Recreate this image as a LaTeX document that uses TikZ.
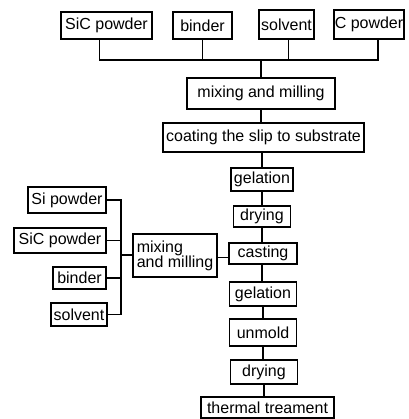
\documentclass[tikz,border=0pt]{standalone}
\usepackage{fontspec}
\setmainfont{Liberation Sans}
\usetikzlibrary{positioning}

\tikzset{
	box/.style={draw, line width=1.25pt, inner sep=0pt, font=\fontsize{16}{15}\selectfont},
	link/.style={line width=1.25pt}
}

\begin{document}
\begin{tikzpicture}[x=1pt,y=-1pt]
		\useasboundingbox (0,0) rectangle (408,419);
		% raw materials for the slip
		\node[box, minimum width=91pt, minimum height=27pt] (sic) at (106.5,25.5) {SiC powder};
		\node[box, minimum width=59pt, minimum height=27pt] (binder) at (202.5,25.5) {binder};
		\node[box, minimum width=55pt, minimum height=29pt] (solvent) at (286.5,24.5) {solvent};
		\node[box, minimum width=70pt, minimum height=29pt] (cpowder) at (369,24.5) {C powder};
		\coordinate (topjoin) at (261,60);
		% main line
		\node[box, minimum width=148pt, minimum height=31pt] (mixA) at (261,93.5) {mixing and milling};
		\node[box, minimum width=201pt, minimum height=29pt] (coat) at (263.5,137.5) {coating the slip to substrate};
		\node[box, minimum width=62pt, minimum height=23pt] (gelA) at (262,179.5) {gelation};
		\node[box, minimum width=57pt, minimum height=21pt] (dryA) at (262,216.5) {drying};
		\node[box, minimum width=68pt, minimum height=21pt] (cast) at (263,253.5) {casting};
		\node[box, minimum width=67pt, minimum height=24pt] (gelB) at (263,294) {gelation};
		\node[box, minimum width=67pt, minimum height=27pt] (unmold) at (263,332.5) {unmold};
		\node[box, minimum width=67pt, minimum height=24pt] (dryB) at (264,372) {drying};
		\node[box, minimum width=133pt, minimum height=21pt] (thermal) at (267.5,407.5) {thermal treament};
		% raw materials for the casting slurry
		\node[box, minimum width=78pt, minimum height=26pt] (si) at (67,200) {Si powder};
		\node[box, minimum width=92pt, minimum height=25pt] (sicB) at (60,240.5) {SiC powder};
		\node[box, minimum width=53pt, minimum height=22pt] (binderB) at (79.5,278) {binder};
		\node[box, minimum width=56pt, minimum height=23pt] (solventB) at (79,314.5) {solvent};
		\coordinate (leftjoin) at (121,255);
		\node[box, minimum width=84pt, minimum height=43pt, align=left] (mixB) at (175,255.5) {mixing\\and milling};

		\draw[link] ([xshift=-7pt]sic.south) |- (topjoin);
		\draw[link] (binder.south) |- (topjoin);
		\draw[link] ([xshift=2pt]solvent.south) |- (topjoin);
		\draw[link] ([xshift=9pt]cpowder.south) |- (topjoin);
		\draw[link] (topjoin) -- (mixA.north);
		\draw[link] (mixA.south) -- (mixA.south |- coat.north);
		\draw[link] (gelA.north |- coat.south) -- (gelA.north);
		\draw[link] (gelA.south) -- (dryA.north);
		\draw[link] (dryA.south) -- (dryA.south |- cast.north);
		\draw[link] (dryA.south |- cast.south) -- (dryA.south |- gelB.north);
		\draw[link] (gelB.south) -- (unmold.north);
		\draw[link] (unmold.south) -- (unmold.south |- dryB.north);
		\draw[link] (dryB.south) -- (dryB.south |- thermal.north);

		\draw[link] (si.east) -| (leftjoin);
		\draw[link] (sicB.east) -| (leftjoin);
		\draw[link] (binderB.east) -| (leftjoin);
		\draw[link] (solventB.east) -| (leftjoin);
		\draw[link] (leftjoin) -- (leftjoin -| mixB.west);
		\draw[link] ([yshift=-2pt]mixB.east) -- ([yshift=-2pt]mixB.east -| cast.west);
\end{tikzpicture}
\end{document}
